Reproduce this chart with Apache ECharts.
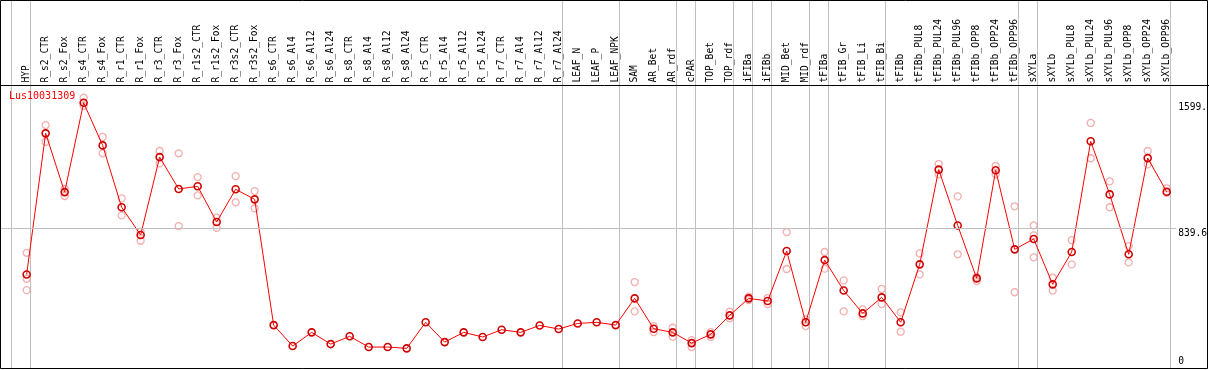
<!DOCTYPE html>
<html><head><meta charset="utf-8">
<script src="https://cdn.jsdelivr.net/npm/echarts@6/dist/echarts.min.js"></script>
<style>html,body{margin:0;padding:0;background:#fff}#c{width:1209px;height:370px}</style>
</head><body><div id="c"></div>
<script>
const seriesName = 'Lus10031309';
const categories = ['HYP','R_s2_CTR','R_s2_Fox','R_s4_CTR','R_s4_Fox','R_r1_CTR','R_r1_Fox','R_r3_CTR','R_r3_Fox','R_r1s2_CTR','R_r1s2_Fox','R_r3s2_CTR','R_r3s2_Fox','R_s6_CTR','R_s6_Al4','R_s6_Al12','R_s6_Al24','R_s8_CTR','R_s8_Al4','R_s8_Al12','R_s8_Al24','R_r5_CTR','R_r5_Al4','R_r5_Al12','R_r5_Al24','R_r7_CTR','R_r7_Al4','R_r7_Al12','R_r7_Al24','LEAF_N','LEAF_P','LEAF_NPK','SAM','AR_Bet','AR_rdf','cPAR','TOP_Bet','TOP_rdf','iFIBa','iFIBb','MID_Bet','MID_rdf','tFIBa','tFIB_Gr','tFIB_Li','tFIB_Bi','tFIBb','tFIBb_PUL8','tFIBb_PUL24','tFIBb_PUL96','tFIBb_OPP8','tFIBb_OPP24','tFIBb_OPP96','sXYLa','sXYLb','sXYLb_PUL8','sXYLb_PUL24','sXYLb_PUL96','sXYLb_OPP8','sXYLb_OPP24','sXYLb_OPP96'];
const meanValues = [560,1415,1059,1600,1342,967,799,1271,1078,1094,878,1076,1015,253,126,209,138,185,120,120,112,270,150,209,181,225,209,251,229,263,270,253,415,231,209,144,197,312,415,399,702,270,647,463,324,421,270,621,1195,857,536,1191,712,775,500,696,1367,1045,682,1265,1061];
const rep1 = [691,1465,1079,1631,1393,1021,819,1308,1294,1150,904,1156,1065,null,null,null,null,null,null,null,null,null,null,null,null,null,null,null,null,null,null,null,514,247,237,162,211,334,425,417,817,288,696,524,348,472,330,688,1229,1033,545,1217,973,857,540,768,1478,1124,732,1308,1082];
const rep2 = [465,1364,1035,1581,1294,918,764,1233,853,1039,843,997,961,null,null,null,null,null,null,null,null,null,null,null,null,null,null,null,null,null,null,null,336,211,182,120,182,294,405,381,593,247,595,336,308,381,213,560,1167,682,520,1167,452,664,463,621,1264,967,633,1227,1055];
const rep3 = [534,null,null,null,null,null,null,null,null,null,null,null,null,null,null,null,null,null,null,null,null,null,null,null,null,null,null,null,null,null,null,null,null,null,null,null,null,null,null,null,null,null,null,null,null,null,null,null,null,null,null,null,null,797,null,null,null,null,null,null,null];
const yTickValues = [0, 839.6, 1599];
const yTickLabels = ['0', '839.6', '1599.'];
const referenceValue = 839.6;
const groupEnds = [-1, 0, 28, 31, 34, 35, 37, 38, 39, 41, 42, 45, 52, 53, 60];

const mono = 'DejaVu Sans Mono';
const sepOffset = 0.2;
const yMin = -13, yMax = 2223;
const replicateData = [];
[rep1, rep2, rep3].forEach(arr => arr.forEach((v, i) => { if (v != null) replicateData.push([i, v]); }));
const meanData = categories.map((c, i) => [i, meanValues[i]]);

const chart = echarts.init(document.getElementById('c'), null, {renderer: 'canvas'});
chart.setOption({
  animation: false,
  title: {text: seriesName, left: 9, top: 91, padding: 0,
    textStyle: {color: '#ff0000', fontFamily: mono, fontSize: 10, fontWeight: 'normal'}},
  grid: {left: 1, right: 32.8, top: 0, bottom: 1, containLabel: false, outerBoundsMode: 'none'},
  xAxis: {type: 'value', position: 'top', offset: -85.5, min: -1.35, max: 60.5,
    axisLine: {show: false}, axisTick: {show: false}, splitLine: {show: false},
    axisLabel: {customValues: categories.map((c, i) => i), formatter: v => categories[Math.round(v)] || '',
      rotate: 90, margin: 3, fontFamily: mono, fontSize: 9.6, color: '#000'}},
  yAxis: {type: 'value', position: 'right', min: yMin, max: yMax,
    axisLine: {show: false}, axisTick: {show: false}, splitLine: {show: false},
    axisLabel: {customValues: yTickValues, formatter: v => {
        let k = 0; yTickValues.forEach((t, j) => { if (Math.abs(t - v) < Math.abs(yTickValues[k] - v)) k = j; });
        return yTickLabels[k]; },
      margin: 2, verticalAlign: 'top', verticalAlignMinLabel: 'bottom', fontFamily: mono, fontSize: 9.6, color: '#000'}},
  graphic: [
    {type: 'rect', shape: {x: 0.5, y: 0.5, width: 1207, height: 368}, style: {fill: 'none', stroke: '#000', lineWidth: 1}, z: 100, silent: true},
    {type: 'line', shape: {x1: 0, y1: 85.5, x2: 1209, y2: 85.5}, style: {stroke: '#000', lineWidth: 1}, z: 100, silent: true}
  ],
  series: [
    {type: 'custom', name: 'groups', z: 1, silent: true, clip: false,
      data: groupEnds.map(i => [i + sepOffset, 0]),
      encode: {x: 0, y: 1},
      renderItem: (params, api) => {
        const x = api.value(0);
        const p1 = api.coord([x, yMax]);
        const p2 = api.coord([x, yMin]);
        const px = Math.round(p1[0] - 0.5) + 0.5;
        return {type: 'line', shape: {x1: px, y1: p1[1], x2: px, y2: p2[1]},
          style: {stroke: '#c0c0c0', lineWidth: 1}};
      }},
    {type: 'line', name: 'grid', data: [], z: 1, silent: true,
      markLine: {silent: true, symbol: ['none', 'none'], label: {show: false},
        lineStyle: {color: '#c0c0c0', width: 1, type: 'solid'},
        data: [{yAxis: referenceValue}]}},
    {type: 'scatter', name: 'replicates', data: replicateData, z: 2, symbol: 'circle', symbolSize: 7,
      itemStyle: {color: 'rgba(0,0,0,0)', borderColor: '#f09a9a', borderWidth: 1.3}},
    {type: 'line', name: seriesName, data: meanData, z: 3, symbol: 'circle', symbolSize: 7, showAllSymbol: true,
      lineStyle: {color: '#ff0000', width: 1},
      itemStyle: {color: 'rgba(0,0,0,0)', borderColor: '#d00000', borderWidth: 1.6}}
  ]
});
</script></body></html>
